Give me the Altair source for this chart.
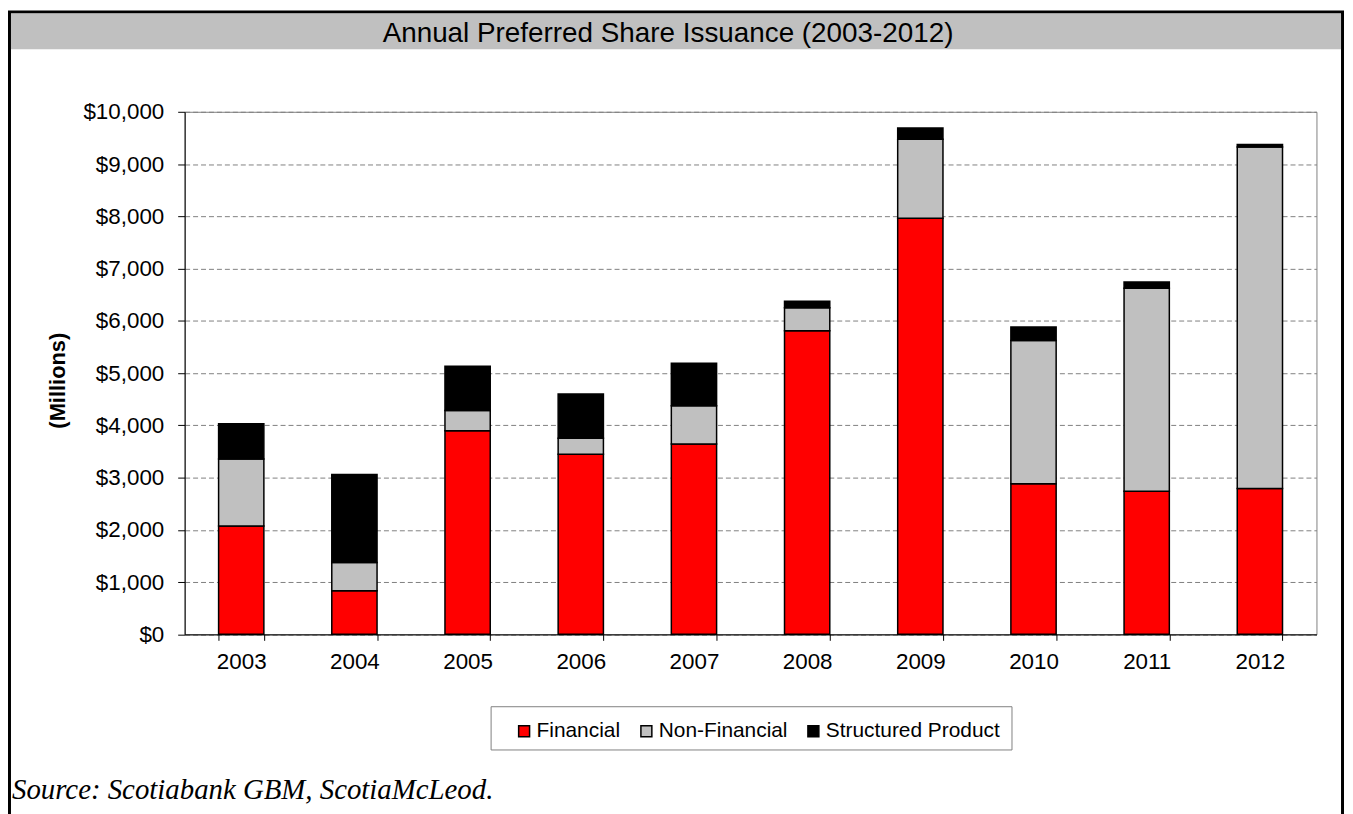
import altair as alt
import pandas as pd

# ---- data ----
years = ["2003", "2004", "2005", "2006", "2007", "2008", "2009", "2010", "2011", "2012"]
series = ["Financial", "Non-Financial", "Structured Product"]
financial = [2075, 835, 3895, 3445, 3645, 5810, 7965, 2880, 2740, 2790]
non_financial = [1280, 540, 390, 310, 730, 440, 1510, 2745, 3885, 6535]
structured = [675, 1685, 845, 845, 815, 125, 215, 255, 120, 50]
colors = ["#FF0000", "#C0C0C0", "#000000"]
y_ticks = [0, 1000, 2000, 3000, 4000, 5000, 6000, 7000, 8000, 9000, 10000]

title_text = "Annual Preferred Share Issuance (2003-2012)"
source_text = "Source: Scotiabank GBM, ScotiaMcLeod."

rows = []
for i, vals in enumerate([financial, non_financial, structured]):
    for yr, v in zip(years, vals):
        rows.append({"Year": yr, "Series": series[i], "Value": v, "idx": i})
df = pd.DataFrame(rows)

# layout (pixels, relative to the page / plot area)
PLOT_W = 1138.6
PLOT_H = 525.7
PAD_L = 177.7
PAD_T = 102
PAD_R = 1345 - PAD_L - PLOT_W
PAD_B = 806 - PAD_T - PLOT_H

SANS = "Liberation Sans"
one = pd.DataFrame({"a": [0]})

bars = alt.Chart(df).mark_bar(stroke="black", strokeWidth=1.5).encode(
    x=alt.X(
        "Year:N",
        sort=years,
        scale=alt.Scale(paddingInner=0.6, paddingOuter=0.3),
        axis=alt.Axis(
            title=None,
            labelAngle=0,
            labelFont=SANS,
            labelFontSize=22.5,
            labelColor="black",
            labelPadding=10,
            tickBand="extent",
            tickSize=6,
            tickColor="black",
            domainColor="black",
            domainWidth=1,
            grid=False,
        ),
    ),
    y=alt.Y(
        "Value:Q",
        stack="zero",
        scale=alt.Scale(domain=[0, 10000], nice=False),
        axis=alt.Axis(
            values=y_ticks,
            format="$,.0f",
            labelFont=SANS,
            labelFontSize=22.5,
            labelColor="black",
            labelPadding=14,
            tickSize=7,
            tickColor="black",
            domainColor="black",
            domainWidth=1,
            grid=True,
            gridColor="#808080",
            gridDash=[5, 3],
            gridWidth=1,
            title="(Millions)",
            titleFont=SANS,
            titleFontSize=22,
            titleFontWeight="bold",
            titleColor="black",
            titleAngle=270,
            titleAlign="center",
            titleBaseline="middle",
            titleX=-127.7,
            titleY=270,
        ),
    ),
    color=alt.Color(
        "Series:N",
        scale=alt.Scale(domain=series, range=colors),
        legend=alt.Legend(
            title=None,
            orient="none",
            direction="horizontal",
            legendX=331,
            legendY=612.5,
            padding=0,
            symbolType="square",
            symbolSize=121,
            symbolStrokeColor="black",
            symbolStrokeWidth=1.5,
            labelFont=SANS,
            labelFontSize=21,
            labelColor="black",
            labelOffset=2,
            labelLimit=0,
            columnPadding=15,
        ),
    ),
    order=alt.Order("idx:Q", sort="ascending"),
)

frame = alt.Chart(one).mark_rect(fill=None, stroke="black", strokeWidth=3).encode(
    x=alt.value(9.5 - 185.7), x2=alt.value(1350.5 - 185.7),
    y=alt.value(9.5 - 110), y2=alt.value(850 - 110),
)

title_bar = alt.Chart(one).mark_rect(fill="#C0C0C0").encode(
    x=alt.value(11 - 185.7), x2=alt.value(1349 - 185.7),
    y=alt.value(11 - 110), y2=alt.value(47 - 110),
)

title = alt.Chart(one).mark_text(
    text=title_text, font=SANS, fontSize=28, color="black",
    align="center", baseline="alphabetic",
).encode(x=alt.value(672 - 185.7), y=alt.value(39.5 - 110))

legend_box = alt.Chart(one).mark_rect(fill="white", stroke="#808080", strokeWidth=1).encode(
    x=alt.value(494 - 185.7), x2=alt.value(1018 - 185.7),
    y=alt.value(708.5 - 110), y2=alt.value(752 - 110),
)

source = alt.Chart(one).mark_text(
    text=source_text, font="Liberation Serif", fontStyle="italic", fontSize=29,
    color="black", align="left", baseline="alphabetic",
).encode(x=alt.value(12 - 185.7), y=alt.value(801 - 110))

chart = alt.layer(frame, title_bar, title, legend_box, bars, source).properties(
    width=PLOT_W,
    height=PLOT_H,
    padding={"left": PAD_L, "top": PAD_T, "right": PAD_R, "bottom": PAD_B},
    autosize=alt.AutoSizeParams(type="none"),
    background="white",
).configure_view(stroke="#808080", strokeWidth=1)

chart.save("out.html", embed_options={"renderer": "svg", "actions": False})
